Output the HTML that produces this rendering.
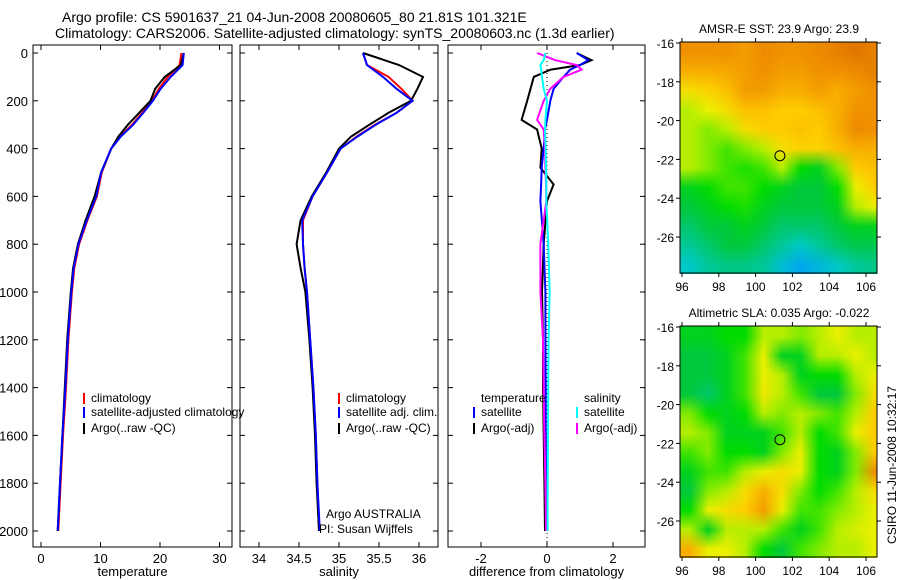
<!DOCTYPE html>
<html><head><meta charset="utf-8">
<style>
body{margin:0;background:#fff;width:900px;height:580px;overflow:hidden;font-family:"Liberation Sans",sans-serif}
#c{position:absolute;left:0;top:0}
canvas{position:absolute;image-rendering:auto}
</style></head>
<body>
<svg id="c" width="900" height="580" font-family="Liberation Sans, sans-serif"></svg>
<canvas id="sst" width="11" height="12" style="left:680px;top:42px;width:203px;height:232px"></canvas>
<canvas id="sla" width="11" height="12" style="left:680px;top:326px;width:203px;height:232px"></canvas>
<script>
const depths=[0,50,100,150,200,250,300,350,400,500,600,700,800,900,1000,1200,1400,1600,1800,2000];
const tClim=[23.6,23.3,21.3,19.8,18.6,17.0,15.3,13.3,11.8,10.2,9.4,7.8,6.4,5.6,5.2,4.6,4.2,3.7,3.3,2.9];
const tSat=[24.0,23.8,21.8,20.1,18.8,17.2,15.5,13.4,11.8,10.1,9.3,7.7,6.3,5.5,5.1,4.5,4.1,3.6,3.2,2.8];
const tArgo=[24.0,23.5,20.8,19.2,18.4,16.5,14.6,13.0,11.8,10.1,9.0,7.5,6.2,5.4,5.0,4.4,4.0,3.6,3.2,2.8];
const sClim=[35.30,35.35,35.62,35.78,35.92,35.72,35.45,35.22,35.02,34.85,34.67,34.55,34.55,34.57,34.60,34.64,34.68,34.71,34.73,34.75];
const sSat=[35.30,35.35,35.55,35.72,35.92,35.72,35.46,35.23,35.02,34.85,34.67,34.54,34.55,34.57,34.60,34.64,34.68,34.71,34.73,34.76];
const sArgo=[35.30,35.75,36.05,35.98,35.90,35.62,35.38,35.15,35.00,34.84,34.66,34.52,34.47,34.52,34.58,34.63,34.67,34.70,34.72,34.75];
const dDepths=[0,30,50,70,100,150,200,280,320,400,480,550,620,800,1000,1200,1400,1600,1800,2000];
const dTArgo=[0.9,1.35,1.0,0.1,-0.4,-0.5,-0.6,-0.77,-0.3,-0.16,-0.2,0.2,0,-0.1,-0.15,-0.12,-0.12,-0.1,-0.08,-0.06];
const dTSat=[0.9,1.25,1.0,0.7,0.5,0.2,0.1,0.0,-0.06,-0.1,-0.16,-0.18,-0.2,-0.1,-0.05,-0.05,-0.04,-0.04,-0.03,-0.03];
const dSArgo=[-0.3,0.25,0.9,1.05,0.5,0.1,-0.1,-0.3,-0.1,-0.06,-0.05,-0.03,-0.02,-0.2,-0.2,-0.12,-0.1,-0.08,-0.05,-0.03];
const dSSat=[-0.05,-0.1,-0.2,-0.18,-0.15,-0.1,0.0,-0.05,-0.06,-0.04,-0.03,-0.02,-0.02,0.04,0.08,0.05,0.04,0.03,0.02,0.02];
const depthTicks=[0,200,400,600,800,1000,1200,1400,1600,1800,2000];
const tTicks=[0,10,20,30], sTicks=[34,34.5,35,35.5,36], dTicks=[-2,0,2];
const latTicks=[16,18,20,22,24,26], lonTicks=[96,98,100,102,104,106];
const sstGrid=[
[0.8,0.8,0.8,0.78,0.82,0.8,0.8,0.82,0.85,0.88,0.85],
[0.75,0.75,0.76,0.78,0.8,0.78,0.78,0.8,0.8,0.82,0.85],
[0.65,0.68,0.72,0.78,0.78,0.75,0.75,0.78,0.75,0.78,0.8],
[0.55,0.6,0.65,0.72,0.72,0.7,0.7,0.72,0.75,0.8,0.8],
[0.55,0.5,0.55,0.65,0.7,0.7,0.72,0.7,0.75,0.82,0.8],
[0.55,0.5,0.45,0.5,0.55,0.65,0.68,0.68,0.72,0.75,0.75],
[0.55,0.5,0.45,0.42,0.45,0.55,0.4,0.35,0.5,0.7,0.72],
[0.35,0.4,0.45,0.45,0.4,0.35,0.3,0.3,0.4,0.6,0.7],
[0.3,0.35,0.4,0.42,0.35,0.3,0.3,0.3,0.35,0.55,0.6],
[0.25,0.3,0.3,0.35,0.3,0.25,0.25,0.25,0.3,0.35,0.35],
[0.2,0.25,0.3,0.3,0.25,0.2,0.15,0.2,0.25,0.28,0.28],
[0.15,0.2,0.22,0.22,0.2,0.12,0.05,0.1,0.15,0.2,0.22]];
const slaGrid=[
[0.35,0.35,0.4,0.4,0.55,0.55,0.5,0.55,0.6,0.55,0.55],
[0.3,0.3,0.35,0.45,0.6,0.35,0.35,0.55,0.55,0.6,0.55],
[0.3,0.3,0.35,0.45,0.6,0.55,0.35,0.4,0.4,0.55,0.6],
[0.3,0.25,0.35,0.45,0.62,0.55,0.45,0.3,0.3,0.5,0.65],
[0.5,0.4,0.35,0.4,0.55,0.5,0.55,0.5,0.45,0.55,0.7],
[0.55,0.5,0.35,0.35,0.35,0.45,0.55,0.4,0.45,0.6,0.7],
[0.45,0.5,0.4,0.4,0.35,0.5,0.6,0.4,0.35,0.5,0.7],
[0.35,0.45,0.45,0.55,0.6,0.65,0.6,0.4,0.35,0.5,0.82],
[0.3,0.5,0.55,0.65,0.75,0.65,0.5,0.4,0.45,0.55,0.65],
[0.4,0.6,0.65,0.7,0.78,0.6,0.45,0.45,0.5,0.55,0.6],
[0.55,0.35,0.55,0.55,0.55,0.45,0.35,0.45,0.55,0.58,0.6],
[0.75,0.6,0.6,0.55,0.4,0.3,0.45,0.5,0.55,0.55,0.6]];
const floatLon=101.321, floatLat=21.81;

const NS="http://www.w3.org/2000/svg", svg=document.getElementById('c');
function el(tag,attrs,parent){const e=document.createElementNS(NS,tag);for(const k in attrs)e.setAttribute(k,attrs[k]);(parent||svg).appendChild(e);return e;}
function txt(s,x,y,anchor,size,name,extra){const t=el('text',Object.assign({x:x,y:y,'text-anchor':anchor||'start','font-size':size||13,fill:'#000'},extra||{}));t.textContent=s;


return t;}
const yD=d=>53+d*0.239;
const PY0=45, PY1=547;
function panel(x0,x1,xf,ticks,fmt,label,name){
  const g=el('g',{});
  
  
  el('rect',{x:x0,y:PY0,width:x1-x0,height:PY1-PY0,fill:'none',stroke:'#000','stroke-width':1},g);
  depthTicks.forEach(d=>{el('line',{x1:x0,x2:x0+5,y1:yD(d),y2:yD(d),stroke:'#000'},g);el('line',{x1:x1,x2:x1-5,y1:yD(d),y2:yD(d),stroke:'#000'},g);});
  ticks.forEach(v=>{const x=xf(v);el('line',{x1:x,x2:x,y1:PY0,y2:PY0+5,stroke:'#000'},g);el('line',{x1:x,x2:x,y1:PY1,y2:PY1-5,stroke:'#000'},g);
    txt(fmt(v),x,563,'middle',13,'x-tick-label');});
  txt(label,(x0+x1)/2,576,'middle',13,'x-axis-title');
  return g;
}
function line(xs,ys,xf,color,name,w){
  const pts=xs.map((v,i)=>xf(v).toFixed(1)+','+yD(ys[i]).toFixed(1)).join(' ');
  const p=el('polyline',{points:pts,fill:'none',stroke:color,'stroke-width':w||2});
  
  
}
// titles
txt('Argo profile: CS 5901637_21 04-Jun-2008 20080605_80 21.81S 101.321E',62,22,'start',14,'title-line-1');
txt('Climatology: CARS2006. Satellite-adjusted climatology: synTS_20080603.nc (1.3d earlier)',55,38,'start',14,'title-line-2');
depthTicks.forEach(d=>txt(String(d),28,yD(d)+5,'end',13,'depth-tick-label'));
// panel 1
const xT=v=>41+v*5.95;
panel(33,232,xT,tTicks,v=>String(v),'temperature','temperature-panel');
line(tClim,depths,xT,'#f00','temp-climatology-line');
line(tArgo,depths,xT,'#000','temp-argo-line');
line(tSat,depths,xT,'#00f','temp-satellite-line');
// panel 2
const xS=v=>259+(v-34)*80;
panel(240,438,xS,sTicks,v=>String(v),'salinity','salinity-panel');
line(sClim,depths,xS,'#f00','sal-climatology-line');
line(sArgo,depths,xS,'#000','sal-argo-line');
line(sSat,depths,xS,'#00f','sal-satellite-line');
// panel 3
const xDf=v=>547+v*33;
panel(448,645,xDf,dTicks,v=>String(v),'difference from climatology','difference-panel');
el('line',{x1:547,x2:547,y1:PY0,y2:PY1,stroke:'#000','stroke-dasharray':'1,3'});
line(dTArgo,dDepths,xDf,'#000','temp-diff-argo-line');
line(dTSat,dDepths,xDf,'#00f','temp-diff-satellite-line');
line(dSArgo,dDepths,xDf,'#f0f','sal-diff-argo-line');
line(dSSat,dDepths,xDf,'#0ff','sal-diff-satellite-line');
// legends
function leg(x,y,color,label){el('line',{x1:x,x2:x,y1:y-9,y2:y+2,stroke:color,'stroke-width':2});txt(label,x+7,y,'start',12,'legend-entry');}
leg(84,402,'#f00','climatology');leg(84,416,'#00f','satellite-adjusted climatology');leg(84,432,'#000','Argo(..raw -QC)');
leg(339,402,'#f00','climatology');leg(339,416,'#00f','satellite adj. clim.');leg(339,432,'#000','Argo(..raw -QC)');
txt('temperature',481,402,'start',12,'legend-heading');txt('salinity',584,402,'start',12,'legend-heading');
leg(474,416,'#00f','satellite');leg(474,432,'#000','Argo(-adj)');
leg(577,416,'#0ff','satellite');leg(577,432,'#f0f','Argo(-adj)');
txt('Argo AUSTRALIA',326,518,'start',12,'credit-text');
txt('PI: Susan Wijffels',319,533,'start',12,'credit-text');
// maps
const stops=[[0,[0,150,255]],[0.15,[0,200,200]],[0.3,[0,200,60]],[0.4,[0,220,0]],[0.5,[130,235,0]],[0.6,[235,240,0]],[0.7,[255,205,0]],[0.8,[240,145,0]],[1,[205,80,0]]];
function cmap(v){for(let i=1;i<stops.length;i++){if(v<=stops[i][0]){const a=stops[i-1],b=stops[i],t=(v-a[0])/(b[0]-a[0]);return a[1].map((c,k)=>Math.round(c+(b[1][k]-c)*t));}}return stops[stops.length-1][1];}
function drawMap(id,grid){const c=document.getElementById(id),ctx=c.getContext('2d'),im=ctx.createImageData(11,12);
  grid.forEach((row,r)=>row.forEach((v,k)=>{const col=cmap(v),i=(r*11+k)*4;im.data[i]=col[0];im.data[i+1]=col[1];im.data[i+2]=col[2];im.data[i+3]=255;}));ctx.putImageData(im,0,0);}
drawMap('sst',sstGrid);drawMap('sla',slaGrid);
function mapAxes(top,title,name){
  const g=el('g',{});
  
  
  const lonX=v=>682+(v-96)*18.4, latY=v=>top+1+(v-16)*19.4;
  el('rect',{x:680,y:top,width:197,height:231,fill:'none',stroke:'#000'},g);
  // cover overflow of canvas
  latTicks.forEach(v=>{el('line',{x1:676,x2:680,y1:latY(v),y2:latY(v),stroke:'#000'},g);el('line',{x1:877,x2:881,y1:latY(v),y2:latY(v),stroke:'#000'},g);txt('-'+v,674,latY(v)+5,'end',12,'lat-tick-label');});
  lonTicks.forEach(v=>{el('line',{x1:lonX(v),x2:lonX(v),y1:top,y2:top-4,stroke:'#000'},g);el('line',{x1:lonX(v),x2:lonX(v),y1:top+231,y2:top+235,stroke:'#000'},g);txt(String(v),lonX(v),top+249,'middle',12,'lon-tick-label');});
  txt(title,779,top-9,'middle',12,'map-title');
  const m=el('circle',{cx:lonX(floatLon),cy:latY(floatLat),r:5,fill:'none',stroke:'#000'},g);
  
  
}
svg.style.zIndex=2;
mapAxes(42,'AMSR-E SST: 23.9 Argo: 23.9','sst-map-axes');
mapAxes(326,'Altimetric SLA: 0.035 Argo: -0.022','sla-map-axes');
// white masks beyond map area
el('rect',{x:877.5,y:0,width:30,height:580,fill:'#fff'});
txt('CSIRO 11-Jun-2008 10:32:17',896,465,'middle',12,'timestamp-label',{transform:'rotate(-90 896 465)'});
// redraw right ticks over mask
[42,326].forEach(top=>latTicks.forEach(v=>{const y=top+1+(v-16)*19.4;el('line',{x1:877,x2:881,y1:y,y2:y,stroke:'#000'});}));
</script>
<style>#c{z-index:2;pointer-events:none}canvas{z-index:1}</style>
</body></html>
